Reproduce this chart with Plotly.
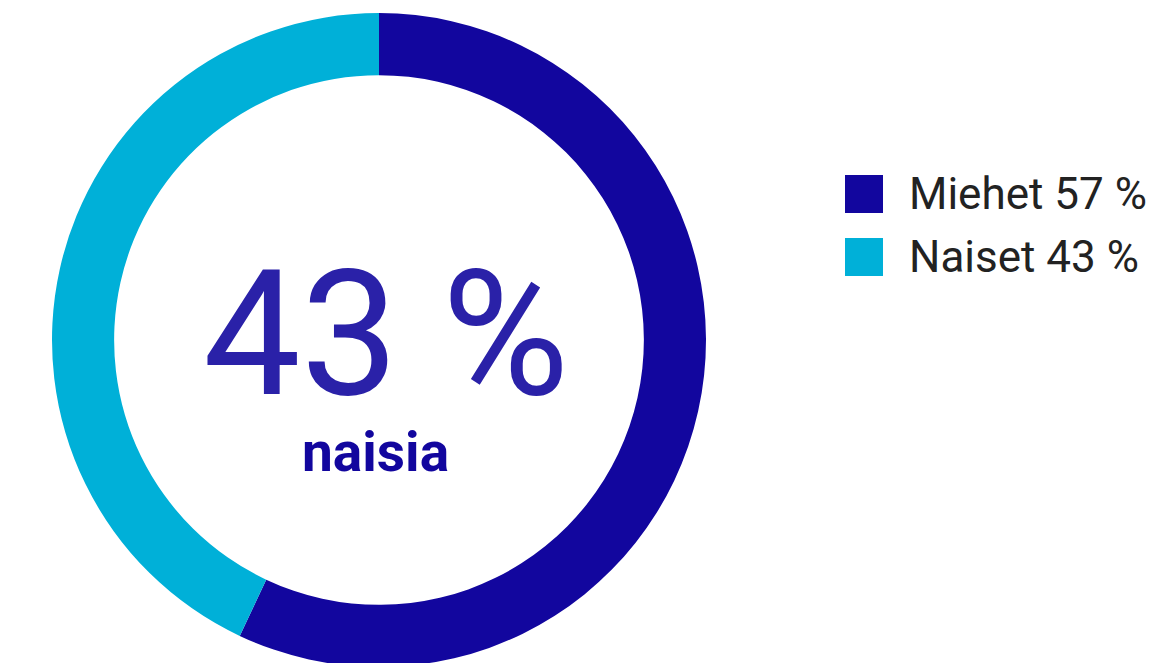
import plotly.graph_objects as go

labels = ["Miehet", "Naiset"]
values = [57, 43]
colors = ["#12069e", "#00b0d8"]
center_value = "43 %"
center_label = "naisia"

W, H = 1173, 663
OFF = 8  # page body margin


def px_x(x):
    return (x - OFF) / W


def px_y(y):
    return 1 - (y - OFF) / H


fig = go.Figure()

fig.add_trace(go.Pie(
    labels=labels, values=values,
    hole=0.81, sort=False, direction="clockwise", rotation=0,
    marker=dict(colors=colors, line=dict(width=0)),
    textinfo="none", hoverinfo="label+percent",
    domain=dict(x=[px_x(52), px_x(706)], y=[px_y(667), px_y(13)]),
    showlegend=False,
))

# center text
fig.add_annotation(x=px_x(386), y=px_y(334), xref="paper", yref="paper",
                   text=center_value, showarrow=False, xanchor="center", yanchor="middle",
                   font=dict(family="Roboto", size=174, color="#2a21a8"))
fig.add_annotation(x=px_x(375), y=px_y(452), xref="paper", yref="paper",
                   text="<b>" + center_label + "</b>", showarrow=False,
                   xanchor="center", yanchor="middle",
                   font=dict(family="Roboto", size=55, color="#12069e"))

# legend drawn by hand
for i, (lab, val, col) in enumerate(zip(labels, values, colors)):
    top = 175 + i * 63
    fig.add_shape(type="rect", xref="paper", yref="paper",
                  x0=px_x(845), x1=px_x(883), y0=px_y(top + 38), y1=px_y(top),
                  fillcolor=col, line=dict(width=0))
    fig.add_annotation(x=px_x(907), y=px_y(top + 19), xref="paper", yref="paper",
                       text=f"{lab} {val} %", showarrow=False,
                       xanchor="left", yanchor="middle",
                       font=dict(family="Roboto", size=44, color="#222222"))

fig.update_layout(
    width=W, height=H,
    margin=dict(l=0, r=0, t=0, b=0),
    paper_bgcolor="white", plot_bgcolor="white",
)

fig.write_html("out.html")
